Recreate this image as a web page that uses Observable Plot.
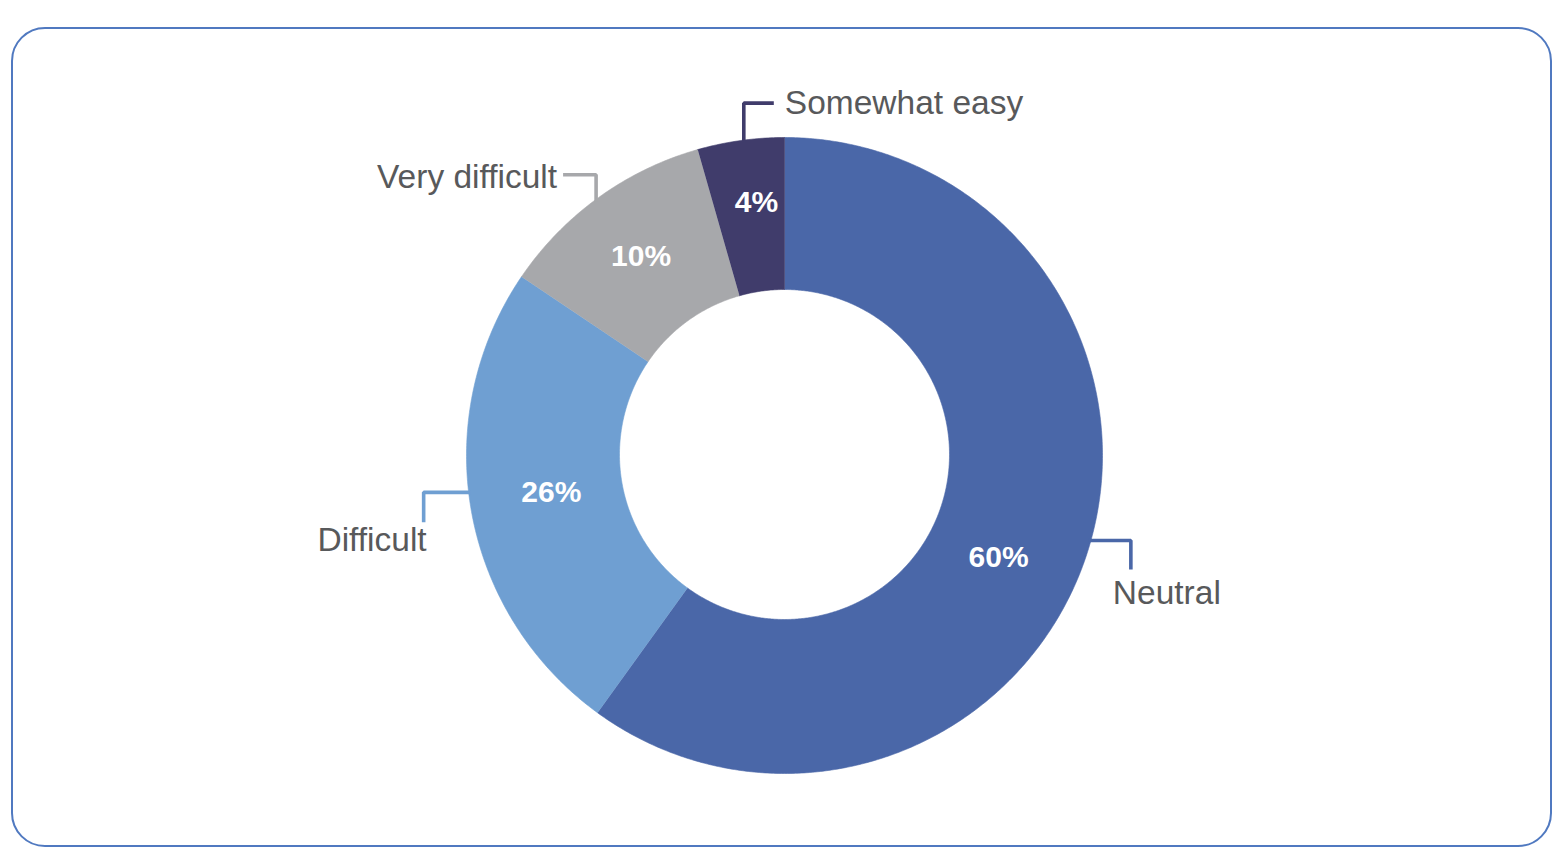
<!DOCTYPE html>
<html>
<head>
<meta charset="utf-8">
<script src="https://cdn.jsdelivr.net/npm/d3@7"></script>
<script src="https://cdn.jsdelivr.net/npm/@observablehq/plot@0.6"></script>
<style>
  html, body { margin: 0; padding: 0; background: #ffffff; }
  #wrap { position: relative; width: 1566px; height: 860px; overflow: hidden; }
  #border { position: absolute; left: 11px; top: 27px; width: 1537px; height: 816px;
            border: 2px solid #5079c0; border-radius: 34px; box-sizing: content-box; }
  #chart { position: absolute; left: 0; top: 0; }
  #chart svg { background: transparent; }
</style>
</head>
<body>
<div id="wrap"><div id="border"></div><div id="chart"></div></div>
<script>
// ---- data ----
const categories = ["Neutral", "Difficult", "Very difficult", "Somewhat easy"];
const shares = [60.0, 24.5, 11.1, 4.4];           // slice sizes as drawn
const pctLabels = ["60%", "26%", "10%", "4%"];    // printed labels
const colors = ["#4a67a8", "#6f9fd2", "#a7a8ab", "#403c6b"];

// ---- layout (not data) ----
const W = 1566, H = 860;
const cx = 784, cy = 455, R = 318;
const cy0 = 454, r0 = 165;
const pctLayout = {            // angle nudge (deg) and radius for the % labels
  "Neutral": {dAngle: 7.4, radius: 237},
  "Difficult": {dAngle: 1.0, radius: 236},
  "Very difficult": {dAngle: 0, radius: 245},
  "Somewhat easy": {dAngle: 1.6, radius: 255}
};
const calloutLayout = {
  "Somewhat easy": {angle: 352.6, legs: [[0, -39], [30, 0]], text: [11, 0], anchor: "start"},
  "Very difficult": {angle: 323.4, legs: [[0, -27], [-33, 0]], text: [-6, 2], anchor: "end"},
  "Difficult": {angle: 263.3, legs: [[-47, 0], [0, 30]], text: [3, 18], anchor: "end"},
  "Neutral": {angle: 105.6, legs: [[42, 0], [0, 29]], text: [-18, 24], anchor: "start"}
};

const rad = d => d * Math.PI / 180;
const px = (a, rr) => cx + rr * Math.sin(rad(a));
const py = (a, rr, c = cy) => c - rr * Math.cos(rad(a));

// slice angle extents
const total = d3.sum(shares);
let acc = 0;
const slices = categories.map((c, i) => {
  const a0 = acc / total * 360;
  acc += shares[i];
  const a1 = acc / total * 360;
  return {category: c, a0, a1, mid: (a0 + a1) / 2, label: pctLabels[i], color: colors[i]};
});

// polygon points for each ring slice
const ringPts = [];
for (const s of slices) {
  const n = Math.max(8, Math.ceil((s.a1 - s.a0) / 0.5));
  for (let k = 0; k <= n; k++) {
    const a = s.a0 + (s.a1 - s.a0) * k / n;
    ringPts.push({category: s.category, x: px(a, R), y: py(a, R)});
  }
  for (let k = n; k >= 0; k--) {
    const a = s.a0 + (s.a1 - s.a0) * k / n;
    ringPts.push({category: s.category, x: px(a, r0), y: py(a, r0, cy0)});
  }
}

// percentage labels
const pctPts = slices.map(s => {
  const L = pctLayout[s.category];
  const a = s.mid + L.dAngle;
  return {category: s.category, label: s.label, x: px(a, L.radius), y: py(a, L.radius)};
});

// leader lines and category labels
const leaderPts = [];
const namePts = [];
for (const s of slices) {
  const L = calloutLayout[s.category];
  let x = px(L.angle, R - 2), y = py(L.angle, R - 2);
  leaderPts.push({category: s.category, x, y});
  for (const [dx, dy] of L.legs) {
    x += dx; y += dy;
    leaderPts.push({category: s.category, x, y});
  }
  namePts.push({category: s.category, x: x + L.text[0], y: y + L.text[1], anchor: L.anchor});
}

const colorScale = {domain: categories, range: colors};

const plot = Plot.plot({
  width: W,
  height: H,
  margin: 0,
  x: {domain: [0, W], range: [0, W], axis: null},
  y: {domain: [0, H], range: [0, H], axis: null},
  color: colorScale,
  style: {background: "transparent"},
  marks: [
    Plot.line(ringPts, {x: "x", y: "y", z: "category", fill: "category", stroke: "category", strokeWidth: 0.6, curve: "linear"}),
    Plot.line(leaderPts, {x: "x", y: "y", z: "category", stroke: "category", strokeWidth: 3.6, strokeLinejoin: "miter", strokeLinecap: "butt", curve: "linear"}),
    Plot.text(pctPts, {
      x: "x", y: "y", text: "label", fill: "white",
      fontSize: 30, fontWeight: "bold",
      fontFamily: "'Liberation Sans Narrow', 'Arial Narrow', 'Liberation Sans', Arial, sans-serif",
      textAnchor: "middle"
    }),
    Plot.text(namePts.filter(d => d.anchor === "start"), {
      x: "x", y: "y", text: "category", fill: "#58595b",
      fontSize: 33.5, fontFamily: "'Liberation Sans', Arial, Helvetica, sans-serif", textAnchor: "start"
    }),
    Plot.text(namePts.filter(d => d.anchor === "end"), {
      x: "x", y: "y", text: "category", fill: "#58595b",
      fontSize: 33.5, fontFamily: "'Liberation Sans', Arial, Helvetica, sans-serif", textAnchor: "end"
    })
  ]
});
document.getElementById("chart").appendChild(plot);
</script>
</body>
</html>
